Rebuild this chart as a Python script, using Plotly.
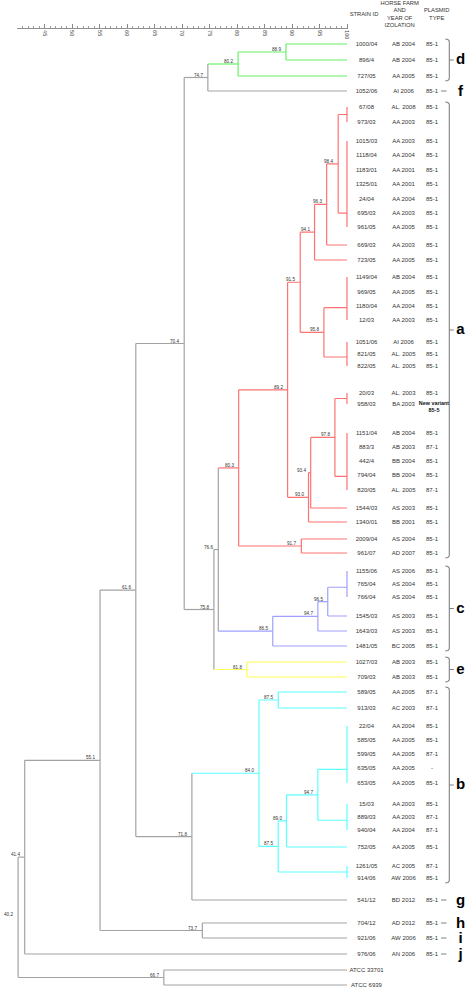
import plotly.graph_objects as go

# ---------------- DATA ----------------
strain_ids = ["1000/04", "896/4", "727/05", "1052/06", "67/08", "973/03", "1015/03", "1118/04",
              "1183/01", "1325/01", "24/04", "695/03", "961/05", "669/03", "723/05", "1149/04",
              "969/05", "1180/04", "12/03", "1051/06", "821/05", "822/05", "20/03", "958/03",
              "1151/04", "883/3", "442/4", "794/04", "820/05", "1544/03", "1340/01", "2009/04",
              "961/07", "1155/06", "765/04", "766/04", "1545/03", "1643/03", "1481/05", "1027/03",
              "709/03", "589/05", "913/03", "22/04", "585/05", "599/05", "635/05", "653/05",
              "15/03", "889/03", "940/04", "752/05", "1261/05", "914/06", "541/12", "704/12",
              "921/06", "976/06", "ATCC 33701", "ATCC 6939"]
farms = ["AB 2004", "AB 2004", "AA 2005", "AI 2006", "AL. 2008", "AA 2003", "AA 2003", "AA 2004",
         "AA 2001", "AA 2001", "AA 2004", "AA 2003", "AA 2005", "AA 2003", "AA 2005", "AB 2004",
         "AA 2005", "AA 2004", "AA 2003", "AI 2006", "AL. 2005", "AL. 2005", "AL. 2003", "BA 2003",
         "AB 2004", "AB 2003", "BB 2004", "BB 2004", "AL. 2005", "AS 2003", "BB 2001", "AS 2004",
         "AD 2007", "AS 2006", "AS 2004", "AS 2004", "AS 2003", "AS 2003", "BC 2005", "AB 2003",
         "AB 2003", "AA 2005", "AC 2003", "AA 2004", "AA 2005", "AA 2005", "AA 2005", "AA 2005",
         "AA 2003", "AA 2003", "AA 2004", "AA 2005", "AC 2005", "AW 2006", "BD 2012", "AD 2012",
         "AW 2006", "AN 2006", "", ""]
plasmids = ["85-1", "85-1", "85-1", "85-1", "85-1", "85-1", "85-1", "85-1",
            "85-1", "85-1", "85-1", "85-1", "85-1", "85-1", "85-1", "85-1",
            "85-1", "85-1", "85-1", "85-1", "85-1", "85-1", "85-1", "NEW",
            "85-1", "87-1", "85-1", "85-1", "87-1", "85-1", "85-1", "85-1",
            "85-1", "85-1", "85-1", "85-1", "85-1", "85-1", "85-1", "85-1",
            "85-1", "87-1", "87-1", "85-1", "85-1", "87-1", "-", "85-1",
            "85-1", "87-1", "87-1", "85-1", "87-1", "85-1", "85-1", "85-1",
            "85-1", "85-1", "", ""]
new_variant_text = "New variant<br>85-5"

# dendrogram merges: node name, similarity (%), children (leaf index or node name)
node_names = ["d2", "d1", "n747", "a_id1", "a_id2", "n984", "n963", "n941", "a_id3", "a_id4",
              "n958", "n915", "a_id5", "a_id6", "n978", "n934", "n930", "n892", "n917", "a",
              "c_id", "n965", "n947c", "c", "n766", "e", "n758", "n704", "n875a", "b_id1",
              "b_id2", "n947b", "n890", "b_id3", "n875b", "b", "n718", "n616", "n737", "n551",
              "n414", "n667", "root"]
node_sims = [88.9, 80.2, 74.7, 100, 100, 98.4, 96.3, 94.1, 100, 100,
             95.8, 91.5, 100, 100, 97.8, 93.4, 93.0, 89.2, 91.7, 80.3,
             100, 96.5, 94.7, 86.5, 76.6, 81.8, 75.8, 70.4, 87.5, 100,
             100, 94.7, 89.0, 100, 87.5, 84.0, 71.8, 61.6, 73.7, 55.1,
             41.4, 66.7, 40.2]
node_children = [[0, 1], ["d2", 2], ["d1", 3], [4, 5], [6, 7, 8, 9, 10, 11, 12], ["a_id1", "a_id2"],
                 ["n984", 13], ["n963", 14], [15, 16, 17, 18], [19, 20, 21],
                 ["a_id3", "a_id4"], ["n941", "n958"], [22, 23], [24, 25, 26, 27, 28],
                 ["a_id5", "a_id6"], ["n978", 29], ["n934", 30], ["n915", "n930"], [31, 32],
                 ["n892", "n917"], [33, 34, 35], ["c_id", 36], ["n965", 37], ["n947c", 38],
                 ["a", "c"], [39, 40], ["n766", "e"], ["n747", "n758"], [41, 42],
                 [43, 44, 45, 46, 47], [48, 49, 50], ["b_id1", "b_id2"], ["n947b", 51], [52, 53],
                 ["n890", "b_id3"], ["n875a", "n875b"], ["b", 54], ["n704", "n718"], [55, 56],
                 ["n616", "n737"], ["n551", 57], [58, 59], ["n414", "n667"]]

group_letters = ["d", "f", "a", "c", "e", "b", "g", "h", "i", "j"]
group_first = [0, 3, 4, 33, 39, 41, 54, 55, 56, 57]
group_last = [2, 3, 32, 38, 40, 53, 54, 55, 56, 57]

axis_ticks = [40, 45, 50, 55, 60, 65, 70, 75, 80, 85, 90, 95, 100]
axis_tick_labels = ["", "45", "50", "55", "60", "65", "70", "75", "80", "85", "90", "95", "100"]

# ---------------- LAYOUT / STYLE ----------------
W, H = 468, 992
X40_PX = 17.0          # pixel of 40 %
PX_PER_UNIT = 5.5
XMAX = 100.25
AXIS_Y_PX = 28
ROW_TOP = 44
ROW_GAPS = [16, 16, 15, 16, 15, 19, 14, 15, 14, 15, 14, 14, 18, 15, 17, 15, 14, 14, 22, 12,
            12, 27, 11, 29, 14, 14, 14, 15, 18, 14, 17, 14, 18, 13, 13, 19, 15, 15, 16, 15,
            15, 16, 18, 14, 14, 14, 15, 21, 13, 13, 17, 19, 12, 22, 23, 15, 16, 16, 15]
CLUSTER_COLORS = {"d1": "#66f266", "a": "#ff7272", "c": "#a0a0ff", "e": "#ffff55", "b": "#5cffff"}
GRAY = "#a3a3a3"
FONT = "Arial, 'Liberation Sans', Helvetica, sans-serif"
TXT = "#333333"
COL_STRAIN, COL_FARM, COL_PLASMID = 366.5, 403.5, 432
BRACKET_X, LETTER_X = 449.3, 460.5

dom0 = X40_PX / W
dom1 = (X40_PX + (XMAX - 40) * PX_PER_UNIT) / W
x2_start = X40_PX + (XMAX - 40) * PX_PER_UNIT

row_y = [ROW_TOP]
for g in ROW_GAPS:
    row_y.append(row_y[-1] + g)

sim = dict(zip(node_names, node_sims))
children = dict(zip(node_names, node_children))
parent = {}
for n, ch in children.items():
    for c in ch:
        parent[c] = n

ycache = {}


def ypos(n):
    if isinstance(n, int):
        return row_y[n]
    if n in ycache:
        return ycache[n]
    ch = children[n]
    y = ypos(ch[0])
    for c in ch[1:]:
        y = (y + ypos(c)) / 2
    ycache[n] = y
    return y


def color_of(n):
    while True:
        if n in CLUSTER_COLORS:
            return CLUSTER_COLORS[n]
        if n not in parent:
            return GRAY
        n = parent[n]


segs = {}


def add_seg(col, x0, y0, x1, y1):
    xs, ys = segs.setdefault(col, ([], []))
    xs += [x0, x1, None]
    ys += [y0, y1, None]


annotations = []
for n in node_names:
    s = sim[n]
    ch = children[n]
    ys_ch = [ypos(c) for c in ch]
    add_seg(color_of(n), s, min(ys_ch), s, max(ys_ch))
    for c in ch:
        xc = 100 if isinstance(c, int) else sim[c]
        add_seg(color_of(c), s, ypos(c), xc, ypos(c))
    if s < 100:
        annotations.append(dict(x=s, y=ypos(n), xref="x", yref="y", text=f"{s:.1f}",
                                showarrow=False, xanchor="right", yanchor="bottom",
                                xshift=-4, yshift=-1, borderpad=0,
                                font=dict(size=4.6, color=TXT, family=FONT)))

fig = go.Figure()
order = [GRAY] + [c for c in segs if c != GRAY]
for col in order:
    if col not in segs:
        continue
    xs, ys = segs[col]
    fig.add_trace(go.Scatter(x=xs, y=ys, mode="lines", line=dict(color=col, width=1.2),
                             hoverinfo="skip", showlegend=False, xaxis="x", yaxis="y"))

# leaf text columns
n_leaves = len(strain_ids)
plain_idx = [i for i in range(n_leaves) if plasmids[i] != "NEW"]
fig.add_trace(go.Scatter(x=[COL_STRAIN] * n_leaves, y=[y + 0.5 for y in row_y], text=strain_ids,
                         mode="text", textfont=dict(size=6, color=TXT, family=FONT),
                         textposition="middle center", cliponaxis=False, hoverinfo="skip",
                         showlegend=False, xaxis="x2", yaxis="y"))
fig.add_trace(go.Scatter(x=[COL_FARM] * n_leaves, y=[y + 0.5 for y in row_y], text=farms,
                         mode="text", textfont=dict(size=6, color=TXT, family=FONT),
                         textposition="middle center", cliponaxis=False, hoverinfo="skip",
                         showlegend=False, xaxis="x2", yaxis="y"))
fig.add_trace(go.Scatter(x=[COL_PLASMID] * len(plain_idx), y=[row_y[i] + 0.5 for i in plain_idx],
                         text=[plasmids[i] for i in plain_idx],
                         mode="text", textfont=dict(size=6, color=TXT, family=FONT),
                         textposition="middle center", cliponaxis=False, hoverinfo="skip",
                         showlegend=False, xaxis="x2", yaxis="y"))
new_idx = [i for i in range(n_leaves) if plasmids[i] == "NEW"]
fig.add_trace(go.Scatter(x=[COL_PLASMID + 2] * len(new_idx), y=[row_y[i] + 3 for i in new_idx],
                         text=["<b>" + new_variant_text + "</b>"] * len(new_idx),
                         mode="text", textfont=dict(size=5.4, color="#111111", family=FONT),
                         textposition="middle center", cliponaxis=False, hoverinfo="skip",
                         showlegend=False, xaxis="x2", yaxis="y"))

# headers
fig.add_trace(go.Scatter(x=[364, 399.7, 436.7], y=[15, 14.5, 14.5],
                         text=["STRAIN ID", "HORSE FARM<br>AND<br>YEAR OF<br>IZOLATION", "PLASMID<br>TYPE"],
                         mode="text", textfont=dict(size=5.8, color=TXT, family=FONT),
                         textposition="middle center", cliponaxis=False, hoverinfo="skip",
                         showlegend=False, xaxis="x2", yaxis="y"))

# brackets and letters
bx, by = [], []
lx, ly = [], []
for L, f, l in zip(group_letters, group_first, group_last):
    if f == l:
        y = row_y[f]
        bx += [441, 446.5, None]
        by += [y, y, None]
        lx.append(LETTER_X)
        ly.append(y + 1.5)
    else:
        top = row_y[f] - 5
        bot = row_y[l] + 5
        mid = (top + bot) / 2
        bx += [445.3, 447.8, 449.0, BRACKET_X, BRACKET_X, 449.0, 447.8, 445.3, None,
               BRACKET_X, 453.8, None]
        by += [top, top + 0.5, top + 1.6, top + 3, bot - 3, bot - 1.6, bot - 0.5, bot, None,
               mid, mid, None]
        lx.append(LETTER_X)
        ly.append(mid + 0.5)
fig.add_trace(go.Scatter(x=bx, y=by, mode="lines", line=dict(color="#808080", width=1.1),
                         hoverinfo="skip", showlegend=False, xaxis="x2", yaxis="y", cliponaxis=False))
fig.add_trace(go.Scatter(x=lx, y=ly, text=[f"<b>{t}</b>" for t in group_letters], mode="text",
                         textfont=dict(size=15, color="#000000", family=FONT),
                         textposition="middle center", cliponaxis=False, hoverinfo="skip",
                         showlegend=False, xaxis="x2", yaxis="y"))

fig.update_layout(
    width=W, height=H,
    margin=dict(l=0, r=0, t=0, b=0, autoexpand=False),
    paper_bgcolor="white", plot_bgcolor="white",
    showlegend=False,
    annotations=annotations,
    xaxis=dict(domain=[dom0, dom1], range=[40, XMAX], anchor="free",
               position=1 - AXIS_Y_PX / H, side="bottom",
               tickmode="array", tickvals=axis_ticks, ticktext=axis_tick_labels,
               ticks="inside", ticklen=4, tickwidth=1, tickcolor="#888888",
               minor=dict(dtick=1, tick0=40, ticks="inside", ticklen=2, tickcolor="#999999",
                          tickwidth=1, showgrid=False),
               showline=True, linecolor="#909090", linewidth=1,
               tickangle=90, tickfont=dict(size=5.5, color="#444444", family=FONT),
               showgrid=False, zeroline=False, fixedrange=True),
    xaxis2=dict(domain=[dom1, 1], range=[x2_start, W], anchor="y", visible=False,
                fixedrange=True),
    yaxis=dict(domain=[0, 1], range=[H, 0], visible=False, fixedrange=True),
)

fig.write_html(
    "out.html",
    config={"displayModeBar": False, "staticPlot": True},
    post_script="document.body.style.margin='0';document.body.style.overflow='hidden';",
)
